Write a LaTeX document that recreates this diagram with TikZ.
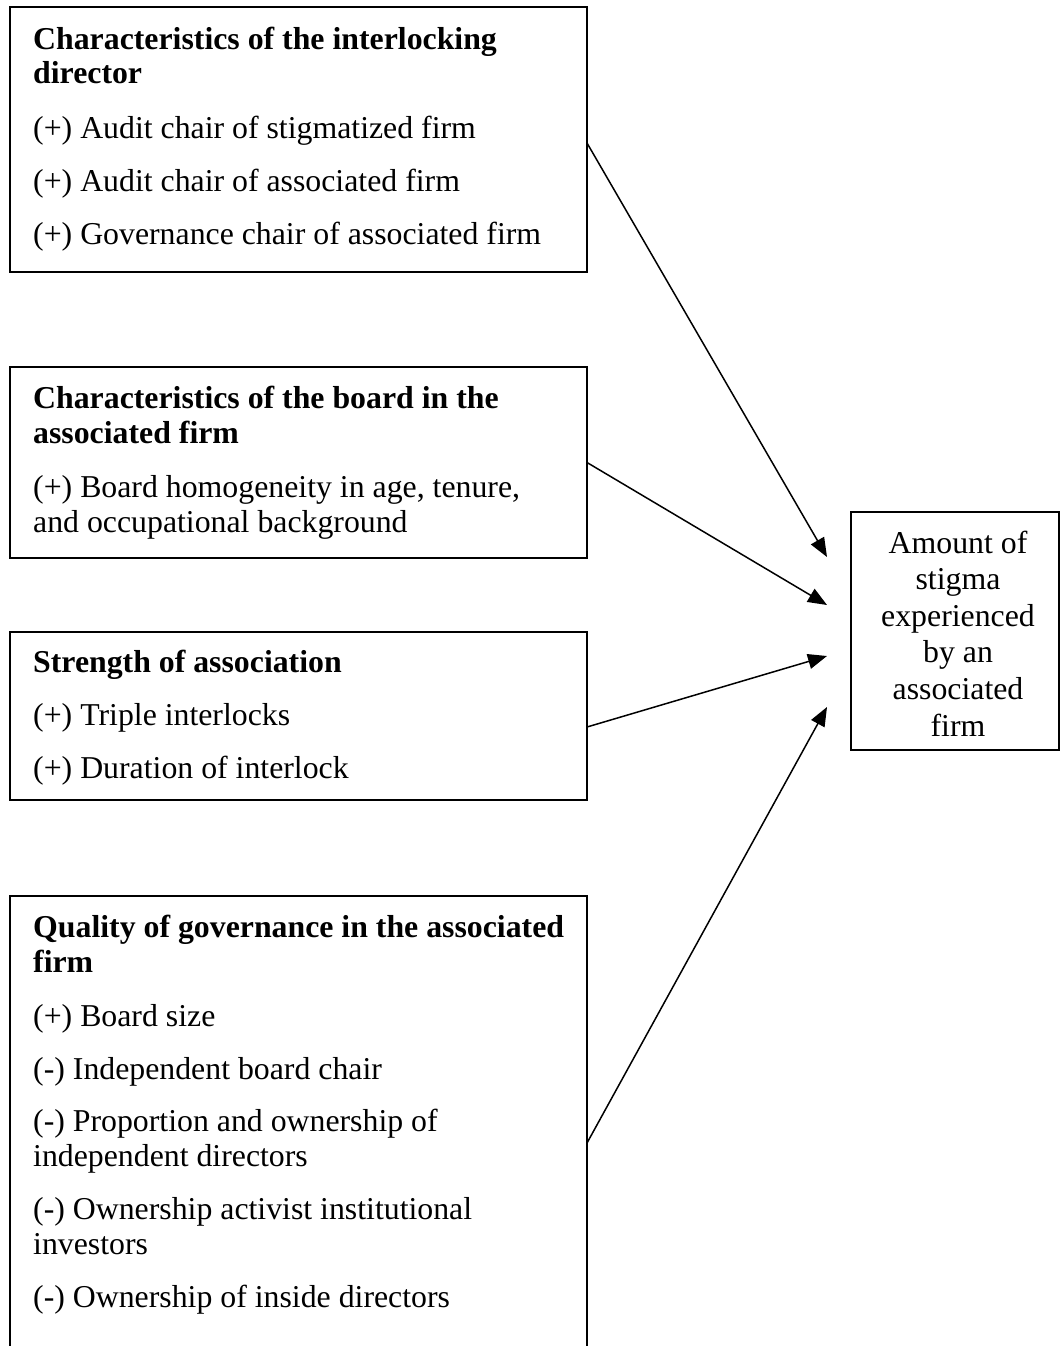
\documentclass[tikz,border=0pt]{standalone}
\usepackage{fontspec}
\setmainfont{Liberation Serif}
\usetikzlibrary{arrows.meta,calc}
\begin{document}
\begin{tikzpicture}[x=1pt,y=-1pt,
  box/.style={draw,line width=1.8pt,minimum width=577pt,anchor=north west,inner sep=0pt,outer sep=0pt},
  ttl/.style={anchor=base west,inner sep=0pt,font=\fontsize{31.8}{34.5}\selectfont\bfseries},
  itm/.style={anchor=base west,inner sep=0pt,font=\fontsize{31.8}{34.5}\selectfont},
  ctr/.style={anchor=base,inner sep=0pt,font=\fontsize{31.8}{34.5}\selectfont},
  link/.style={line width=1.5pt,-{Triangle[length=19pt,width=15pt]}}]
\useasboundingbox (0,0) rectangle (1060,1346);
\clip (0,0) rectangle (1060,1346);

% boxes
\node[box,minimum height=265pt] (b1) at (10,7) {};
\node[box,minimum height=191pt] (b2) at (10,367) {};
\node[box,minimum height=168pt] (b3) at (10,632) {};
\node[box,minimum height=494pt] (b4) at (10,896) {};
\node[box,minimum width=208pt,minimum height=238pt] (r) at (851,512) {};

% box 1
\node[ttl] (b1t1) at (33,49) {Characteristics of the interlocking};
\node[ttl] (b1t2) at (33,84) {director};
\node[itm] (b1i1) at (33,138) {(+) Audit chair of stigmatized firm};
\node[itm] (b1i2) at (33,191) {(+) Audit chair of associated firm};
\node[itm] (b1i3) at (33,244) {(+) Governance chair of associated firm};

% box 2
\node[ttl] (b2t1) at (33,408) {Characteristics of the board in the};
\node[ttl] (b2t2) at (33,443) {associated firm};
\node[itm] (b2i1) at (33,497) {(+) Board homogeneity in age, tenure,};
\node[itm] (b2i2) at (33,532) {and occupational background};

% box 3
\node[ttl] (b3t1) at (33,672) {Strength of association};
\node[itm] (b3i1) at (33,725) {(+) Triple interlocks};
\node[itm] (b3i2) at (33,778) {(+) Duration of interlock};

% box 4
\node[ttl] (b4t1) at (33,937) {Quality of governance in the associated};
\node[ttl] (b4t2) at (33,972) {firm};
\node[itm] (b4i1) at (33,1026) {(+) Board size};
\node[itm] (b4i2) at (33,1079) {(-) Independent board chair};
\node[itm] (b4i3) at (33,1131) {(-) Proportion and ownership of};
\node[itm] (b4i4) at (33,1166) {independent directors};
\node[itm] (b4i5) at (33,1219) {(-) Ownership activist institutional};
\node[itm] (b4i6) at (33,1254) {investors};
\node[itm] (b4i7) at (33,1307) {(-) Ownership of inside directors};

% outcome box text
\node[ctr] (r1) at (958,553) {Amount of};
\node[ctr] (r2) at (958,589.6) {stigma};
\node[ctr] (r3) at (958,626.2) {experienced};
\node[ctr] (r4) at (958,662.8) {by an};
\node[ctr] (r5) at (958,699.4) {associated};
\node[ctr] (r6) at (958,736) {firm};

% arrow tips (free ends, left of the outcome box)
\coordinate (t1) at ($(r.north west)+(-24,45)$);
\coordinate (t2) at ($(r.north west)+(-24,93)$);
\coordinate (t3) at ($(r.north west)+(-24,144)$);
\coordinate (t4) at ($(r.north west)+(-24,195)$);

\draw[link] ($(b1.east)+(0,3.5)$) -- (t1);
\draw[link] (b2.east) -- (t2);
\draw[link] ($(b3.east)+(0,11)$) -- (t3);
\draw[link] (b4.east) -- (t4);
\end{tikzpicture}
\end{document}
